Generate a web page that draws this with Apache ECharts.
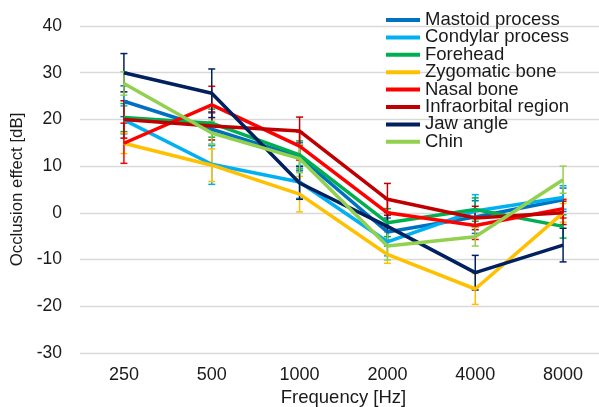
<!DOCTYPE html>
<html>
<head>
<meta charset="utf-8">
<script src="https://cdn.jsdelivr.net/npm/echarts@6/dist/echarts.min.js"></script>
<style>
  html, body { margin: 0; padding: 0; background: #fff; }
  #chart { width: 599px; height: 407px; }
</style>
</head>
<body>
<div id="chart"></div>
<script>
const frequencies = ['250', '500', '1000', '2000', '4000', '8000']

const names = ['Mastoid process', 'Condylar process', 'Forehead', 'Zygomatic bone',
  'Nasal bone', 'Infraorbital region', 'Jaw angle', 'Chin']
const colors = ['#0070C0', '#00B0F0', '#00B050', '#FFC000', '#FF0000', '#C00000', '#002060', '#92D050']

// mean occlusion effect [dB]
const mastoid = [23.9, 17.9, 12.0, -4.1, -0.9, 2.8]
const condylar = [19.9, 10.4, 6.6, -6.2, 0.4, 3.3]
const forehead = [20.4, 19.2, 12.4, -2.1, 0.7, -2.9]
const zygomatic = [14.9, 10.2, 4.0, -8.9, -16.3, 0.0]
const nasal = [14.9, 23.1, 14.3, 0.0, -2.7, 0.9]
const infraorbital = [20.0, 18.6, 17.5, 2.9, -1.1, 0.0]
const jawAngle = [30.0, 25.6, 6.4, -2.9, -12.8, -6.9]
const chin = [27.7, 17.1, 11.6, -7.1, -5.1, 7.1]

// error bar half-widths [dB]
const mastoidErr = [3.3, 3.5, 3.0, 3.0, 3.5, 2.5]
const condylarErr = [3.0, 4.3, 3.5, 3.0, 3.5, 2.5]
const foreheadErr = [3.0, 3.0, 3.0, 3.0, 2.5, 2.5]
const zygomaticErr = [2.2, 3.5, 3.8, 1.9, 3.3, 2.0]
const nasalErr = [4.3, 4.0, 3.0, 3.0, 3.0, 2.0]
const infraorbitalErr = [4.0, 3.0, 3.0, 3.4, 2.5, 2.5]
const jawAngleErr = [4.1, 5.2, 3.5, 3.0, 3.7, 3.6]
const chinErr = [2.5, 2.5, 3.0, 3.0, 2.0, 2.9]

const yTicks = { min: -30, max: 40, interval: 10 }

const means = [mastoid, condylar, forehead, zygomatic, nasal, infraorbital, jawAngle, chin]
const errs = [mastoidErr, condylarErr, foreheadErr, zygomaticErr, nasalErr, infraorbitalErr, jawAngleErr, chinErr]

const font = 'Liberation Sans, Arial, sans-serif'
const textColor = '#1a1a1a'

function errorBars(name, color, mean, err) {
  return {
    type: 'custom',
    name: name,
    silent: true,
    z: 2,
    encode: { x: 0, y: [1, 2] },
    data: mean.map((m, i) => [i, m - err[i], m + err[i]]),
    renderItem: (params, api) => {
      const lo = api.coord([api.value(0), api.value(1)])
      const hi = api.coord([api.value(0), api.value(2)])
      const cap = 3.5
      const style = { stroke: color, lineWidth: 1.5 }
      return {
        type: 'group',
        children: [
          { type: 'line', shape: { x1: lo[0], y1: lo[1], x2: hi[0], y2: hi[1] }, style: style },
          { type: 'line', shape: { x1: lo[0] - cap, y1: lo[1], x2: lo[0] + cap, y2: lo[1] }, style: style },
          { type: 'line', shape: { x1: hi[0] - cap, y1: hi[1], x2: hi[0] + cap, y2: hi[1] }, style: style }
        ]
      }
    }
  }
}

const series = []
names.forEach((name, k) => {
  series.push(errorBars(name, colors[k], means[k], errs[k]))
  series.push({
    type: 'line',
    name: name,
    data: means[k],
    showSymbol: false,
    symbol: 'none',
    z: 3,
    itemStyle: { color: colors[k] },
    lineStyle: { width: 3.5, color: colors[k] }
  })
})

const chart = echarts.init(document.getElementById('chart'))
chart.setOption({
  animation: false,
  backgroundColor: '#fff',
  color: colors,
  grid: { left: 80, top: 26, width: 527, height: 327, outerBoundsMode: 'none', containLabel: false },
  legend: {
    orient: 'vertical',
    left: 386,
    top: 10.5,
    padding: 0,
    itemWidth: 34,
    itemHeight: 4,
    itemGap: -1.6,
    icon: 'rect',
    data: names,
    textStyle: { fontFamily: font, fontSize: 18.5, color: textColor, lineHeight: 17 }
  },
  xAxis: {
    type: 'category',
    data: frequencies,
    name: 'Frequency [Hz]',
    nameLocation: 'middle',
    nameGap: 35.5,
    nameTextStyle: { fontFamily: font, fontSize: 18.5, color: textColor },
    axisLine: { show: false },
    axisTick: { show: false },
    axisLabel: { fontFamily: font, fontSize: 18, color: textColor, margin: 13 }
  },
  yAxis: {
    type: 'value',
    min: yTicks.min,
    max: yTicks.max,
    interval: yTicks.interval,
    name: 'Occlusion effect [dB]',
    nameLocation: 'middle',
    nameGap: 41,
    nameTextStyle: { fontFamily: font, fontSize: 16.8, color: textColor },
    axisLine: { show: false },
    axisTick: { show: false },
    axisLabel: { fontFamily: font, fontSize: 17.5, color: textColor, margin: 18 },
    splitLine: { lineStyle: { color: '#d9d9d9', width: 1.3 } }
  },
  series: series
})
</script>
</body>
</html>
